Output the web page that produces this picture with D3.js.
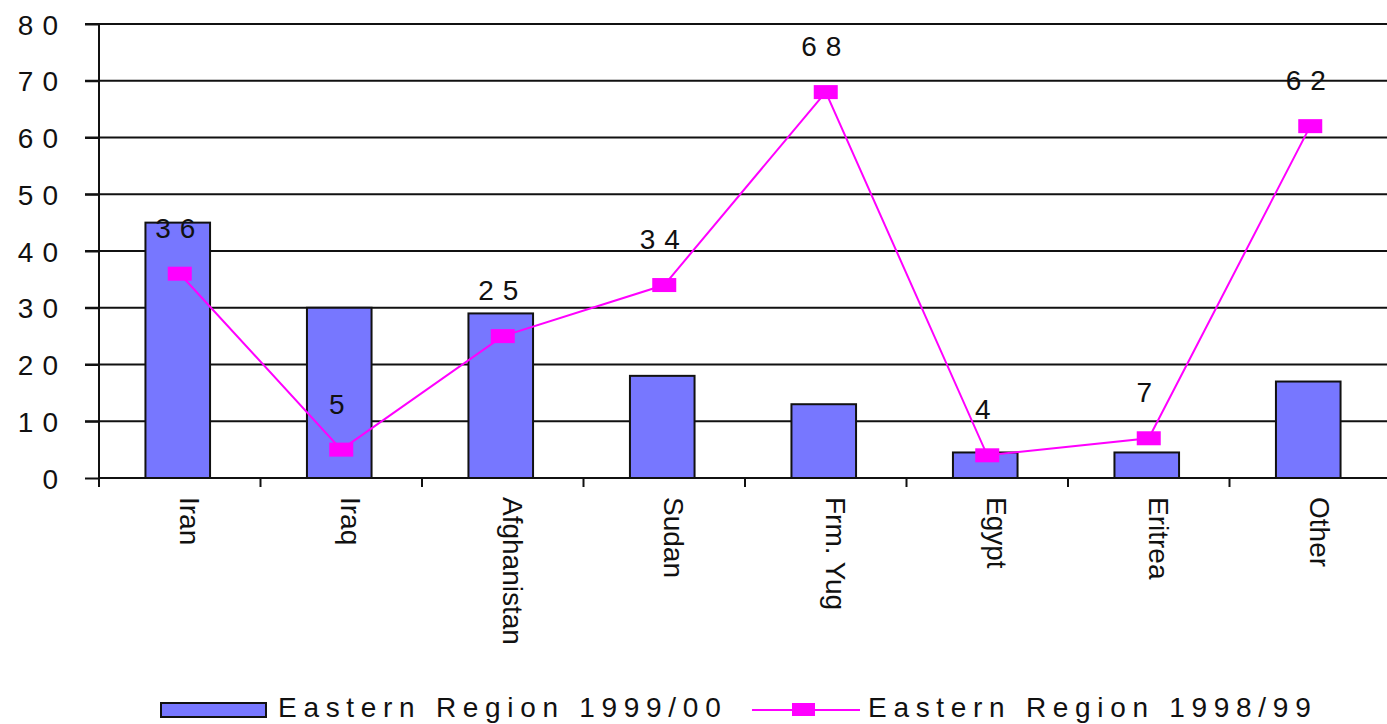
<!DOCTYPE html>
<html>
<head>
<meta charset="utf-8">
<script src="https://cdn.jsdelivr.net/npm/d3@7"></script>
<style>
  body { margin: 0; background: #fff; }
  svg { display: block; font-family: "Liberation Sans", Arial, sans-serif; }
</style>
</head>
<body>
<svg id="chart"></svg>
<script>
// Chart data
const categories = ["Iran", "Iraq", "Afghanistan", "Sudan", "Frm. Yug", "Egypt", "Eritrea", "Other"];
const values9900 = [45, 30, 29, 18, 13, 4.5, 4.5, 17];
const values9899 = [36, 5, 25, 34, 68, 4, 7, 62];
const yTicks = [0, 10, 20, 30, 40, 50, 60, 70, 80];
const seriesNames = ["Eastern Region 1999/00", "Eastern Region 1998/99"];

class ComboChart {
  constructor(_config) {
    this.config = {
      parentElement: _config.parentElement,
      containerWidth: _config.containerWidth || 1387,
      containerHeight: _config.containerHeight || 724,
      margin: _config.margin || { top: 24, right: -4, bottom: 246, left: 99 },
    };
    this.initVis();
  }

  initVis() {
    let vis = this;

    vis.width = vis.config.containerWidth - vis.config.margin.left - vis.config.margin.right;
    vis.height = vis.config.containerHeight - vis.config.margin.top - vis.config.margin.bottom;

    vis.xScale = d3.scaleBand().domain(categories).range([0, vis.width]).padding(0);
    vis.yScale = d3.scaleLinear().domain([0, 80]).range([vis.height, 0]);

    vis.svg = d3
      .select(vis.config.parentElement)
      .attr("width", vis.config.containerWidth)
      .attr("height", vis.config.containerHeight);

    vis.chart = vis.svg
      .append("g")
      .attr("transform", `translate(${vis.config.margin.left},${vis.config.margin.top})`);
  }

  renderVis() {
    let vis = this;
    const xs = vis.xScale, ys = vis.yScale;
    const barW = xs.bandwidth() * 0.4;

    // Gridlines (with tick stubs left of the axis)
    vis.chart
      .selectAll(".grid")
      .data(yTicks.filter((d) => d > 0))
      .join("line")
      .attr("class", "grid")
      .attr("x1", -14)
      .attr("x2", vis.width)
      .attr("y1", (d) => ys(d))
      .attr("y2", (d) => ys(d))
      .attr("stroke", "#111")
      .attr("stroke-width", 2);

    // Y axis
    const yAxis = d3
      .axisLeft(ys)
      .tickValues(yTicks)
      .tickSize(14)
      .tickPadding(20)
      .tickSizeOuter(0);
    const yAxisG = vis.chart.append("g").call(yAxis);
    yAxisG.select(".domain").remove();
    yAxisG.selectAll(".tick line").attr("stroke", "#111").attr("stroke-width", 2);
    yAxisG
      .selectAll(".tick text")
      .attr("font-size", 28)
      .attr("letter-spacing", 9)
      .attr("dx", 2)
      .attr("dy", "0.36em")
      .attr("fill", "#111");
    vis.chart
      .append("line")
      .attr("x1", 0)
      .attr("x2", 0)
      .attr("y1", 0)
      .attr("y2", vis.height + 9)
      .attr("stroke", "#111")
      .attr("stroke-width", 2);

    // X axis
    const bounds = d3.range(categories.length + 1).map((i) => i * xs.step());
    vis.chart
      .selectAll(".xtick")
      .data(bounds)
      .join("line")
      .attr("class", "xtick")
      .attr("x1", (d) => d)
      .attr("x2", (d) => d)
      .attr("y1", vis.height)
      .attr("y2", vis.height + 9)
      .attr("stroke", "#111")
      .attr("stroke-width", 2);
    vis.chart
      .append("line")
      .attr("x1", 0)
      .attr("x2", vis.width)
      .attr("y1", vis.height)
      .attr("y2", vis.height)
      .attr("stroke", "#111")
      .attr("stroke-width", 2);

    vis.chart
      .selectAll(".xlabel")
      .data(categories)
      .join("text")
      .attr("class", "xlabel")
      .attr("transform", (d) => `translate(${xs(d) + xs.bandwidth() / 2},${vis.height + 19}) rotate(90)`)
      .attr("font-size", 28)
      .attr("fill", "#111")
      .text((d) => d);

    // Bars
    vis.chart
      .selectAll(".bar")
      .data(categories)
      .join("rect")
      .attr("class", "bar")
      .attr("x", (d) => xs(d) + xs.bandwidth() / 2 - barW / 2 - 2)
      .attr("width", barW)
      .attr("y", (d, i) => ys(values9900[i]))
      .attr("height", (d, i) => ys(0) - ys(values9900[i]))
      .attr("fill", "#7777ff")
      .attr("stroke", "#111")
      .attr("stroke-width", 2);

    // Line series
    const pts = categories.map((c, i) => [xs(c) + xs.bandwidth() / 2, ys(values9899[i]), values9899[i]]);
    vis.chart
      .append("path")
      .datum(pts)
      .attr("d", d3.line())
      .attr("fill", "none")
      .attr("stroke", "#ff00ff")
      .attr("stroke-width", 2);

    vis.chart
      .selectAll(".marker")
      .data(pts)
      .join("rect")
      .attr("class", "marker")
      .attr("x", (d) => d[0] - 12)
      .attr("y", (d) => d[1] - 7)
      .attr("width", 24)
      .attr("height", 14)
      .attr("fill", "#ff00ff");

    vis.chart
      .selectAll(".dlabel")
      .data(pts)
      .join("text")
      .attr("class", "dlabel")
      .attr("x", (d) => d[0])
      .attr("y", (d) => d[1] - 46)
      .attr("dy", "0.36em")
      .attr("text-anchor", "middle")
      .attr("font-size", 28)
      .attr("letter-spacing", 9)
      .attr("fill", "#111")
      .text((d) => d[2]);

    // Legend
    const legend = vis.svg.append("g").attr("transform", "translate(0,710)");
    legend
      .append("rect")
      .attr("x", 161)
      .attr("y", -7)
      .attr("width", 105)
      .attr("height", 14)
      .attr("fill", "#7777ff")
      .attr("stroke", "#111")
      .attr("stroke-width", 2);
    legend
      .append("text")
      .attr("x", 278)
      .attr("y", 7)
      .attr("font-size", 28)
      .attr("letter-spacing", 6.7)
      .attr("fill", "#111")
      .text(seriesNames[0]);

    legend
      .append("line")
      .attr("x1", 752)
      .attr("x2", 860)
      .attr("stroke", "#ff00ff")
      .attr("stroke-width", 2);
    legend
      .append("rect")
      .attr("x", 792)
      .attr("y", -7)
      .attr("width", 23)
      .attr("height", 13)
      .attr("fill", "#ff00ff");
    legend
      .append("text")
      .attr("x", 868)
      .attr("y", 7)
      .attr("font-size", 28)
      .attr("letter-spacing", 6.7)
      .attr("fill", "#111")
      .text(seriesNames[1]);
  }
}

const chart = new ComboChart({ parentElement: "#chart" });
chart.renderVis();
</script>
</body>
</html>
